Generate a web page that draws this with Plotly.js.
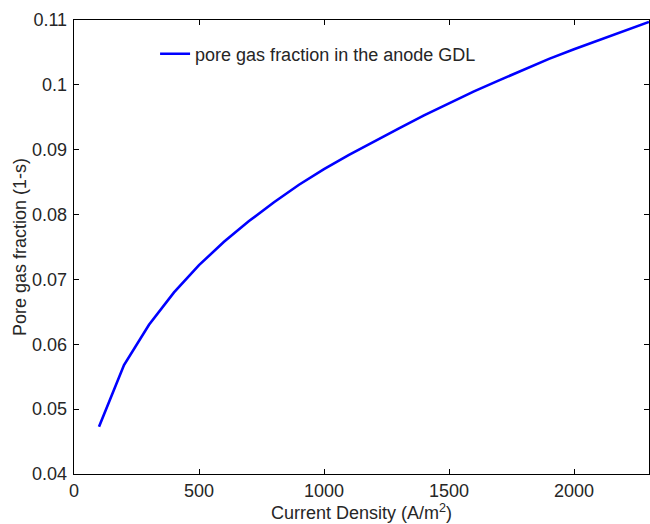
<!DOCTYPE html>
<html>
<head>
<meta charset="utf-8">
<script src="https://cdn.plot.ly/plotly-3.0.1.min.js"></script>
<style>
  html, body { margin: 0; padding: 0; background: #fff; }
  #chart { width: 650px; height: 524px; }
</style>
</head>
<body>
<div id="chart"></div>
<script>
// Current density (A/m^2) and pore gas fraction (1-s) in the anode GDL
const currentDensity = [100, 200, 300, 400, 500, 600, 700, 800, 900, 1000,
                        1100, 1200, 1300, 1400, 1500, 1600, 1700, 1800, 1900, 2000,
                        2100, 2200, 2300];
const gasFraction = [0.0473, 0.0568, 0.0630, 0.0680, 0.0722, 0.0758, 0.0790, 0.0819, 0.0846, 0.0870,
                     0.0892, 0.0913, 0.0933, 0.0953, 0.0972, 0.0990, 0.1007, 0.1024, 0.1040, 0.1055,
                     0.1069, 0.1083, 0.1097];
const seriesName = 'pore gas fraction in the anode GDL';
const xTicks = [0, 500, 1000, 1500, 2000];
const yTicks = [0.04, 0.05, 0.06, 0.07, 0.08, 0.09, 0.1, 0.11];
const yTickText = ['0.04', '0.05', '0.06', '0.07', '0.08', '0.09', '0.1', '0.11'];

const font = { family: 'Liberation Sans, Arial, Helvetica, sans-serif', size: 18, color: '#262626' };

const trace = {
  x: currentDensity,
  y: gasFraction,
  type: 'scatter',
  mode: 'lines',
  name: seriesName,
  line: { color: '#0000ff', width: 2.6 },
  showlegend: true
};

const axisCommon = {
  showline: true,
  linecolor: '#000',
  linewidth: 1.3,
  mirror: 'ticks',
  ticks: 'inside',
  ticklen: 5,
  tickwidth: 1,
  tickcolor: '#000',
  showgrid: false,
  zeroline: false,
  tickfont: font
};

const layout = {
  width: 650,
  height: 524,
  margin: { l: 74, r: 1, t: 20, b: 50 },
  paper_bgcolor: '#fff',
  plot_bgcolor: '#fff',
  font: font,
  showlegend: true,
  legend: {
    x: 0.141, y: 0.925, xanchor: 'left', yanchor: 'middle',
    bgcolor: 'rgba(0,0,0,0)', borderwidth: 0,
    font: font
  },
  xaxis: Object.assign({}, axisCommon, {
    range: [0, 2300],
    tickvals: xTicks,
    ticktext: xTicks.map(String),
    ticklabelstandoff: 0,
    title: { text: 'Current Density (A/m<sup>2</sup>)', font: font, standoff: 3 }
  }),
  yaxis: Object.assign({}, axisCommon, {
    range: [0.04, 0.11],
    tickvals: yTicks,
    ticktext: yTickText,
    ticklabelstandoff: 2,
    title: { text: 'Pore gas fraction (1-s)', font: font, standoff: 0 }
  })
};

Plotly.newPlot('chart', [trace], layout, { displayModeBar: false, staticPlot: true });
</script>
</body>
</html>
